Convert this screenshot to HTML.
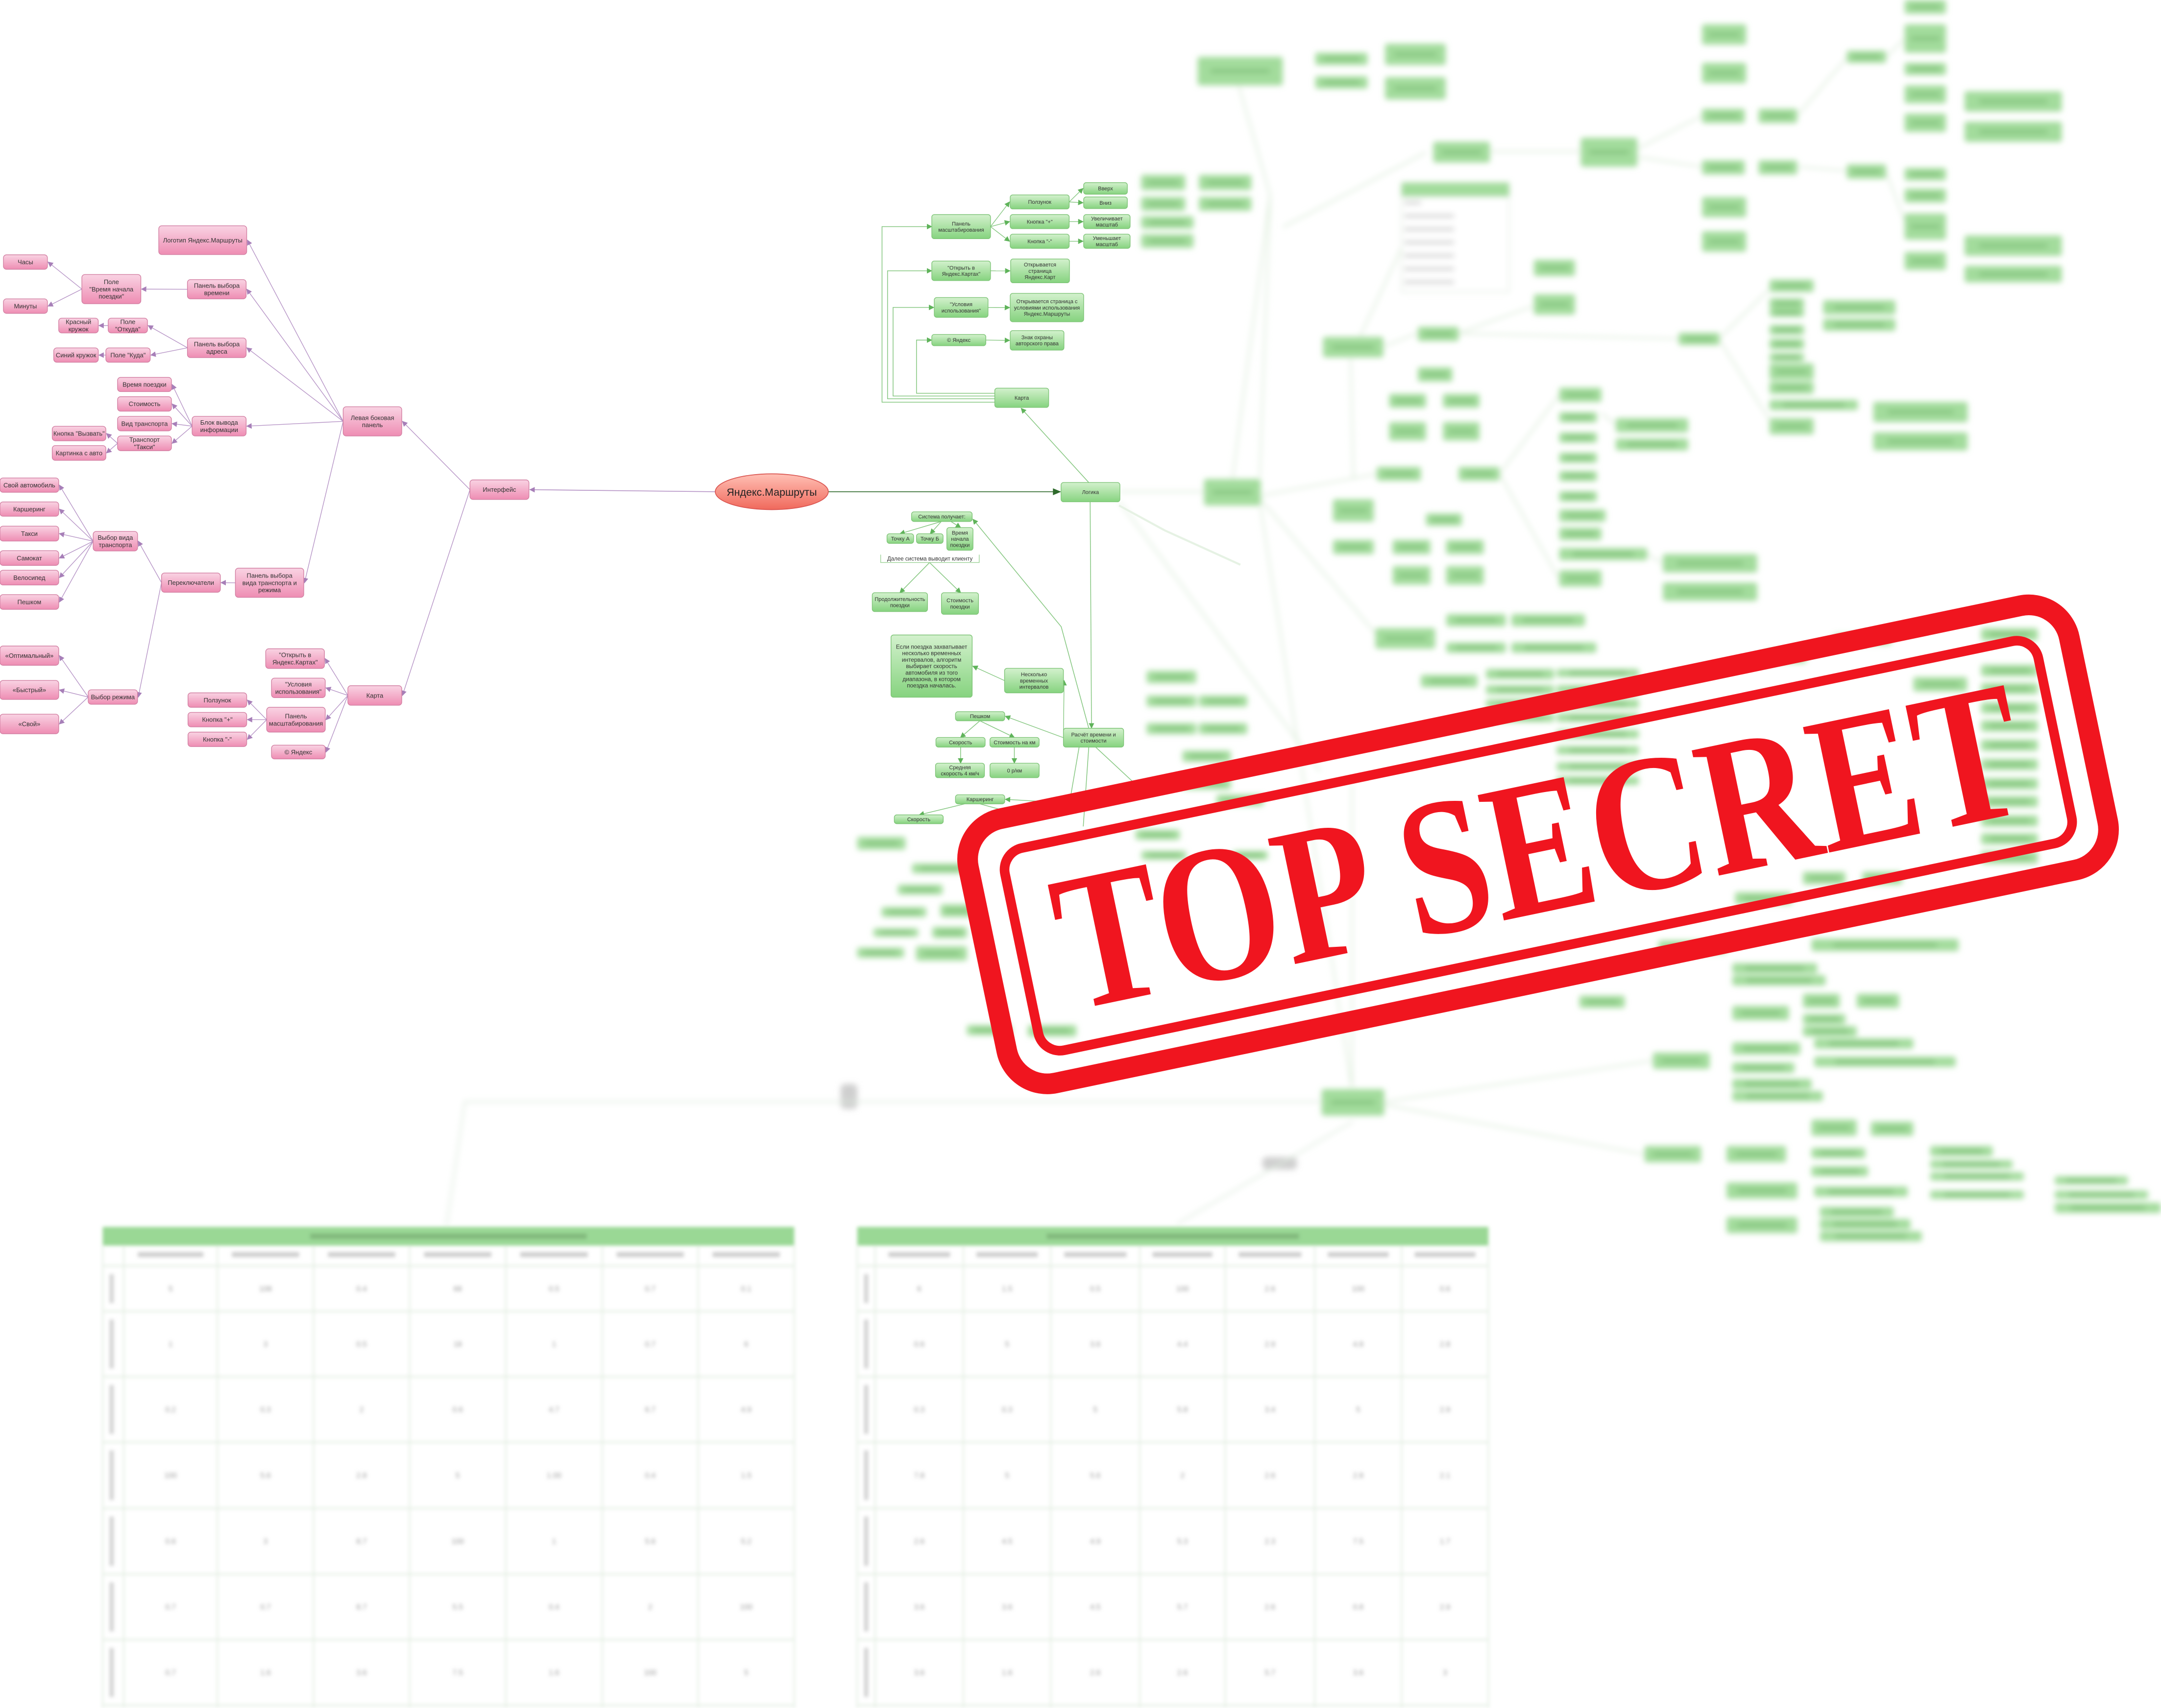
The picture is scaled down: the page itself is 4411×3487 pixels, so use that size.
<!DOCTYPE html>
<html><head><meta charset="utf-8"><style>
html,body{margin:0;padding:0;background:#fff;}
svg{display:block;}
</style></head><body>
<svg id="mm" xmlns="http://www.w3.org/2000/svg" width="4411" height="3487" viewBox="0 0 1568 1240" preserveAspectRatio="none">
<defs>
<linearGradient id="gp" x1="0" y1="0" x2="0" y2="1"><stop offset="0" stop-color="#f9d3e3"/><stop offset="1" stop-color="#ee8db3"/></linearGradient>
<linearGradient id="gg" x1="0" y1="0" x2="0" y2="1"><stop offset="0" stop-color="#d3f1cd"/><stop offset="1" stop-color="#86d37f"/></linearGradient>
<linearGradient id="gr" x1="0" y1="0" x2="0" y2="1"><stop offset="0" stop-color="#ffc0b5"/><stop offset="1" stop-color="#f0695c"/></linearGradient>
<marker id="ap" markerWidth="4" markerHeight="4" refX="3.5" refY="2" orient="auto" markerUnits="userSpaceOnUse"><path d="M0,0 L4,2 L0,4 z" fill="#a77fb8"/></marker>
<marker id="ag" markerWidth="4" markerHeight="4" refX="3.5" refY="2" orient="auto" markerUnits="userSpaceOnUse"><path d="M0,0 L4,2 L0,4 z" fill="#5fb35a"/></marker>
<marker id="ad" markerWidth="6" markerHeight="5" refX="5" refY="2.5" orient="auto" markerUnits="userSpaceOnUse"><path d="M0,0 L6,2.5 L0,5 z" fill="#2f6a2c"/></marker>
<filter id="bl" x="-10%" y="-10%" width="120%" height="120%"><feGaussianBlur stdDeviation="2.2"/></filter>
<filter id="bl2" x="-5%" y="-5%" width="110%" height="110%"><feGaussianBlur stdDeviation="1.3"/></filter>
</defs>
<g id="blurLayer" filter="url(#bl)"></g>
<g id="tables" filter="url(#bl2)"></g>
<g id="edges"></g>
<g id="nodes"></g>
<g id="stamp" transform="translate(1116,613) rotate(-11.8)">
  <rect x="-408" y="-98" width="816" height="196" rx="30" fill="none" stroke="#f0151f" stroke-width="15"/>
  <rect x="-383" y="-74" width="766" height="150" rx="16" fill="none" stroke="#f0151f" stroke-width="7"/>
  <text x="0" y="49" text-anchor="middle" font-family="Liberation Serif, serif" font-weight="bold" font-size="142" fill="#f0151f" textLength="712" lengthAdjust="spacingAndGlyphs">TOP SECRET</text>
</g>
</svg>
<script>
var NS='http://www.w3.org/2000/svg';
function mk(tag,attrs,parent){var e=document.createElementNS(NS,tag);for(var k in attrs)e.setAttribute(k,attrs[k]);parent.appendChild(e);return e;}
var G=document.getElementById('nodes'),E=document.getElementById('edges'),B=document.getElementById('blurLayer'),T=document.getElementById('tables');

var pinkNodes=[
['logo',115.2,163.9,179,184.8,'Логотип Яндекс.Маршруты'],
['chasy',2.5,185,34.4,195.5,'Часы'],
['pole_time',59.4,199.3,102.2,220.5,'Поле\n"Время начала\nпоездки"'],
['minuty',2.5,217,34.4,227.5,'Минуты'],
['pan_time',136,203,178.6,217,'Панель выбора\nвремени'],
['red',42.6,231,71.3,241.7,'Красный\nкружок'],
['otkuda',78.5,231,107,241.7,'Поле\n"Откуда"'],
['blue',39,252.6,71.3,263,'Синий кружок'],
['kuda',76.8,252.6,109,263,'Поле "Куда"'],
['pan_addr',136,245.4,178.6,259.6,'Панель выбора\nадреса'],
['vr_poezd',85.3,274,124.4,284.3,'Время поездки'],
['stoim',85.3,288,124.4,298.5,'Стоимость'],
['vid',85.3,302.3,124.4,312.8,'Вид транспорта'],
['taxi_t',85.3,316.5,124.4,327.2,'Транспорт\n"Такси"'],
['vyzv',37.9,309.5,76.8,320,'Кнопка "Вызвать"'],
['kart',37.9,323.5,76.8,334.2,'Картинка с авто'],
['blok',139.4,302.3,178.6,316.5,'Блок вывода\nинформации'],
['left',249,295.3,291.5,316.5,'Левая боковая\nпанель'],
['iface',341,348.4,383.8,362.6,'Интерфейс'],
['own',0,347,42.6,357.4,'Свой автомобиль'],
['carsh',0,364.4,42.6,374.8,'Каршеринг'],
['taxi',0,382,42.6,392.8,'Такси'],
['samo',0,399.8,42.6,410.5,'Самокат'],
['velo',0,414,42.6,424.7,'Велосипед'],
['walk',0,431.7,42.6,442.4,'Пешком'],
['vybor_vid',67.6,385.8,99.8,400,'Выбор вида\nтранспорта'],
['perekl',117.2,416,159.9,430,'Переключатели'],
['pan_vid',170.8,412.5,220.4,433.7,'Панель выбора\nвида транспорта и\nрежима'],
['opt',0,469,42.6,483,'«Оптимальный»'],
['fast',0,494,42.6,507.8,'«Быстрый»'],
['svoi',0,518.5,42.6,532.7,'«Свой»'],
['rezh',64,500.8,99.8,511.3,'Выбор режима'],
['p_open',192.8,471,235.4,485.3,'"Открыть в\nЯндекс.Картах"'],
['p_usl',197,492.3,236,506.5,'"Условия\nиспользования"'],
['p_karta',252.4,497.8,291.5,512,'Карта'],
['p_polz',136.4,503,179,513.5,'Ползунок'],
['p_plus',136.4,517.2,179,527.7,'Кнопка "+"'],
['p_minus',136.4,531.5,179,542,'Кнопка "-"'],
['p_masht',193.5,513.5,236,531.5,'Панель\nмасштабирования'],
['p_ya',197,541,236,551,'© Яндекс']
];
var pinkEdges=[['iface','left'],['iface','p_karta'],['left','logo'],['left','pan_time'],['left','pan_addr'],['left','blok'],['left','pan_vid'],
['pan_time','pole_time'],['pole_time','chasy'],['pole_time','minuty'],['pan_addr','otkuda'],['pan_addr','kuda'],['otkuda','red'],['kuda','blue'],
['blok','vr_poezd'],['blok','stoim'],['blok','vid'],['blok','taxi_t'],['taxi_t','vyzv'],['taxi_t','kart'],['pan_vid','perekl'],['perekl','vybor_vid'],['perekl','rezh'],
['vybor_vid','own'],['vybor_vid','carsh'],['vybor_vid','taxi'],['vybor_vid','samo'],['vybor_vid','velo'],['vybor_vid','walk'],
['rezh','opt'],['rezh','fast'],['rezh','svoi'],['p_karta','p_open'],['p_karta','p_usl'],['p_karta','p_masht'],['p_karta','p_ya'],
['p_masht','p_polz'],['p_masht','p_plus'],['p_masht','p_minus']];

var greenNodes=[
['g_masht',676.1,155.8,718.7,173.3,'Панель\nмасштабирования'],
['g_polz',733,141.5,775.8,151.7,'Ползунок'],
['g_plus',733,155.8,775.8,166,'Кнопка "+"'],
['g_minus',733,170,775.8,180.3,'Кнопка "-"'],
['g_up',786.3,132.6,818,141,'Вверх'],
['g_down',786.3,143,818,151.4,'Вниз'],
['g_inc',786.3,155.8,820,166,'Увеличивает\nмасштаб'],
['g_dec',786.3,170,820,180.3,'Уменьшает\nмасштаб'],
['g_open',676.1,189.5,718.7,203.7,'"Открыть в\nЯндекс.Картах"'],
['g_open2',733.3,188,776,205.3,'Открывается\nстраница\nЯндекс.Карт'],
['g_usl',677.9,216,716.9,230.4,'"Условия\nиспользования"'],
['g_usl2',733,213,786.3,233.6,'Открывается страница с\nусловиями использования\nЯндекс.Маршруты'],
['g_ya',676.1,242.8,715.3,251,'© Яндекс'],
['g_znak',733,240,772,254.2,'Знак охраны\nавторского права'],
['g_karta',721.8,281.8,760.9,295.8,'Карта'],
['g_log',769.9,350.3,812.6,364.3,'Логика'],
['g_sys',661.4,371.6,705.4,378.6,'Система получает:'],
['g_a',643.6,387.5,662.9,394.5,'Точку А'],
['g_b',665,387.5,684.3,394.5,'Точку Б'],
['g_tstart',687,383,706,399.5,'Время\nначала\nпоездки'],
['g_dur',632.9,430.3,673,444,'Продолжительность\nпоездки'],
['g_cost',683.1,430.3,710,446,'Стоимость\nпоездки'],
['g_if',646.5,461,705.4,506.2,'Если поездка захватывает\nнесколько временных\nинтервалов, алгоритм\nвыбирает скорость\nавтомобиля из того\nдиапазона, в котором\nпоездка началась.'],
['g_neskol',728.9,485.2,771.6,503,'Несколько\nвременных\nинтервалов'],
['g_walk',693.3,516.7,729,523.3,'Пешком'],
['g_speed',679.1,535.4,714.8,542.4,'Скорость'],
['g_perkm',718.3,535.4,754,542.4,'Стоимость на км'],
['g_avg',678.8,554.1,714.3,564.6,'Средняя\nскорость 4 км/ч'],
['g_zero',718.3,554.1,754,564.6,'0 р/км'],
['g_calc',771.6,528.7,815.3,542.4,'Расчёт времени и\nстоимости'],
['g_carsh',693.3,577,729,583.6,'Каршеринг'],
['g_speed2',648.9,591.6,684.4,598,'Скорость']
];
var greenEdges=[['g_masht','g_polz'],['g_masht','g_plus'],['g_masht','g_minus'],['g_polz','g_up'],['g_polz','g_down'],['g_plus','g_inc'],['g_minus','g_dec'],
['g_open','g_open2'],['g_usl','g_usl2'],['g_ya','g_znak'],['g_calc','g_neskol'],['g_calc','g_walk'],['g_neskol','g_if']];

var blurBoxes=[
[869,41.3,930.7,61.9],[954.4,38.3,992.3,47.2],[954.4,55.4,992.3,64.3],[1005,31.8,1049,47.2],[1005,56,1049,72.2],
[1040,103,1081,118],[1147,100,1188,121],[1235,17.7,1267,32.4],[1235,45.7,1267,60.4],[1235,79,1266,89.3],[1276,79,1304,89.3],
[1235,116.4,1266,126.7],[1276,116.4,1304,126.7],[1235,143,1267,157.7],[1235,168,1267,182.7],[1340,36.8,1368.5,45.7],[1340,119.4,1368.5,129.7],
[1382,0,1412,10],[1382,17.7,1412,38.3],[1382,45.7,1412,54.5],[1382,62,1412,75],[1382,82.5,1412,95.8],[1382,122,1412,131],[1382,137,1412,147],[1382,155,1412,174],[1382,183,1412,196],
[1425.5,66.3,1496,81],[1425.5,88.4,1496,103],[1425.5,171,1496,185.7],[1425.5,193,1496,205],
[1113,188.6,1142.8,200.4],[1113,213.7,1142.8,228.4],[960,244.6,1003.7,259.4],[1028.8,237.3,1058.4,247.6],[1028.8,266.7,1053.8,277],
[1008,286,1034.7,296],[1047,286,1073.5,296],[1008,306.5,1034.7,319.8],[1047,306.5,1073.5,319.8],[1218,241.7,1247.6,250.5],
[1284,203,1316,212],[1284,216.6,1309,224],[1284,224,1309,230],[1284,236,1309,243],[1284,246,1309,253.5],[1284,256.5,1309,262.3],[1284,263.8,1316,275.6],[1284,277,1316,286],[1284,290.3,1348,297.7],[1284,303.6,1316,315.4],
[1322.9,218,1375.3,228.4],[1322.9,231.4,1375.3,240.2],[1359.3,291.8,1427.7,306.5],[1359.3,313.9,1427.7,327],
[873.7,347.8,914.8,367],[999,339,1031,349],[1058.4,339,1088,349],[967.2,362.5,996.8,378.7],[967.2,392,996.8,402.3],[1034.7,372.8,1060.7,381.7],
[1010.5,392,1037.9,402.3],[1049.3,392,1076.6,402.3],[1010.5,411,1037.9,424.4],[1049.3,411,1076.6,424.4],
[1131.4,281.5,1162,291.8],[1131.4,299.3,1158.7,306.6],[1131.4,314,1158.7,321.4],[1131.4,328.7,1158.7,336],[1131.4,342,1158.7,349.3],[1131.4,356.7,1158.7,364.1],[1131.4,369.9,1165,378.7],[1131.4,383.1,1162,392],[1131.4,397.9,1195.2,406.7],[1131.4,414,1162,425.9],
[1172.4,303.6,1224.9,313.9],[1172.4,318.3,1224.9,327],[1206.6,402.3,1275,415.6],[1206.6,423,1275,436.2],
[998,456,1041.3,470.9],[1049.5,445.9,1092.6,454.7],[1096.7,445.9,1150,454.7],[1049.5,466.5,1092.6,473.9],[1096.7,466.5,1158.3,473.9],
[1031,490,1072,498.9],[1078.3,485.7,1127.6,493],[1129.6,485.7,1189.1,491.6],[1078.3,497.5,1127.6,504],[1129.6,497.5,1189.1,504],[1078.3,507.8,1127.6,514],[1129.6,507.8,1189.1,514],
[1078.3,518,1127.6,524],[1129.6,518,1189.1,524],[1129.6,530,1189.1,536],[1129.6,541.7,1189.1,547.7],[1129.6,553.5,1189.1,559.5],[1129.6,563.8,1189.1,569.8],
[1281.5,472.4,1310.3,481.2],[1330.8,460.6,1371.9,468],[1388.3,491.6,1427.3,501.9],[1437.5,456.2,1478.6,465],[1437.5,482.7,1478.6,491],[1437.5,496,1478.6,504],[1437.5,510,1478.6,518],
[1437.5,523,1478.6,531],[1437.5,537,1478.6,545],[1437.5,551,1478.6,559],[1437.5,565,1478.6,573],[1437.5,578,1478.6,586],[1437.5,592,1478.6,600],[1437.5,605,1478.6,613],[1437.5,618,1478.6,627],
[1259,647.8,1300,656.6],[1308.2,633,1339,642],[1351.3,633,1380,642],[1314.4,681.6,1421.1,690.5],[1257,699.3,1318.5,706.7],[1257,708,1324.6,715.5],[1203.5,683,1252.8,692],
[1146,722.9,1178.9,731.7],[1257,730.3,1298,740.6],[1308.2,721.5,1334.9,731.7],[1347.2,721.5,1378,731.7],[1308.2,736.2,1339,743.6],[1308.2,745,1347.2,752.4],
[1316.4,753.9,1388.3,761.3],[1316.4,767.1,1419,774.5],[1199.4,764.2,1240.5,776],[1257,756.8,1306.2,765.6],[1257,771.5,1302,778.9],[1257,783.3,1314.4,790.7],[1257,792.2,1322.6,799.5],
[959,790.7,1004.4,809.9],[1314.4,812.8,1347.2,824.6],[1357.5,814.3,1388.3,824.6],[1314.4,833.4,1353.4,840.8],[1314.4,846.7,1355.4,854],[1316.4,861.4,1384.2,868.8],
[1320.5,876.2,1374,883.5],[1320.5,885,1386.2,892.4],[1320.5,893.9,1394.4,901.2],[1400.6,832,1445.8,839.4],[1400.6,842.3,1460.2,848.2],[1400.6,851.1,1468.4,857],[1400.6,864.4,1468.4,870.3],
[1491,854,1544,860],[1491,864.4,1558.6,870.3],[1491,873.2,1568,880.6],[1193.3,832,1234.3,843.8],[1252.8,832,1295.9,843.8],[1252.8,858.5,1304.1,870.3],[1252.8,883.5,1304.1,895.3],
[828,127,860,138],[870,127,908,138],[828,143,860,153],[870,143,908,153],[828,157,866,166],[828,170,866,180],
[832,487,868,496],[832,505,868,513],[870,505,905,513],[832,525,868,533],[870,525,905,533],[858,545,893,553],[858,565,893,573],
[622,607.6,657,616.8],[661.8,627,701.6,634],[651.5,642.3,683.9,649.4],[639.7,658.6,672,665.7],[682.4,656.6,706,665.7],[633.8,674,666.2,680],[676.5,673,701.6,681],
[622,688,655.9,695.3],[664.7,687,701.6,697.4],[701.6,744.3,734,751.5],[745.8,744.3,781,752.5],[824,602.5,856,609.6],[828.3,617.8,860.7,624],[882.8,577,916.7,585],[894.6,617.8,919.7,624]
];
var blurLines=[[812,357,874,357],[898.8,62,921.6,141.5,894.2,347.8],[930.7,165,1035,110.5],[921.6,141.5,914,347],[1081,110,1147,110],[1188,108,1235,84],[1188,114,1235,121],
[1304,84,1340,42],[1304,121,1340,124],[1368,42,1382,28],[1368,124,1382,160],[1003,252,1028,242],[1058,242,1218,246],[1058,242,1113,222],[1247,246,1284,210],[1247,246,1284,305],
[980,259,982,347],[980,259,1017,180],[914,360,999,344],[1088,344,1131,287],[1088,344,1131,420],[914,362,1000,462],[914,364,981,790],[812,364,958,560],[981,569,981,790],
[1004,800,1200,770],[1004,802,1193,838],[1162,300,1172,308],[1195,402,1206,409]];
var greyBlobs=[[610,787,622,805],[916,840,941,849]];

var tableRows=[919,952,999.5,1047,1095,1142.8,1190.4,1238];
var tableLeftCols=[74.5,89.8,157.8,227.5,297.2,367,437,506.6,576.3];
var tableRightCols=[622,635,699,762.5,827,889,954,1017,1080];
var tableLeftVals=[['5','108','0.4','68','0.5','0.7','0.1'],['1','3','0.5','18','1','0.7','6'],['0.2','0.3','2','0.6','4.7','6.7','4.9'],['100','5.6','2.8','5','1.00','0.4','1.5'],['0.6','3','8.7','100','1','5.6','5.2'],['0.7','0.7','8.7','5.5','0.4','2','100'],['0.7','1.6','3.6','7.5','1.6','100','5']];
var tableRightVals=[['6','1.5','0.5','100','2.6','100','0.6'],['0.6','5','3.6','4.4','2.9','4.8','2.8'],['0.3','0.3','5','5.8','3.4','5','2.9'],['7.8','5','5.6','2','2.6','2.8','2.1'],['2.6','4.5','4.9','5.3','2.3','7.5','1.7'],['3.6','3.6','4.5','5.7','2.6','0.8','2.9'],['3.6','1.6','2.6','2.6','5.7','3.6','3']];

function drawNode(n,kind){
  var g=mk('g',{},G);
  
  
  mk('rect',{x:n[1],y:n[2],width:n[3]-n[1],height:n[4]-n[2],rx:kind==='p'?2.2:1.8,fill:kind==='p'?'url(#gp)':'url(#gg)',stroke:kind==='p'?'#d27fa2':'#7ec477','stroke-width':0.5},g);
  var lines=n[5].split('\n'),fs=kind==='p'?4.6:3.9,lh=fs*1.15;
  if(n[0]==='g_if'){fs=4.2;lh=4.7;}
  var cx=(n[1]+n[3])/2,cy=(n[2]+n[4])/2,y0=cy-(lines.length-1)*lh/2+fs*0.35;
  var t=mk('text',{x:cx,y:y0,'text-anchor':'middle','font-family':'Liberation Sans, DejaVu Sans, sans-serif','font-size':fs,fill:'#333'},g);
  lines.forEach(function(l,i){var s=mk('tspan',{x:cx,y:y0+i*lh},t);s.textContent=l;});
}
var idx={};
pinkNodes.forEach(function(n){idx[n[0]]=n;});
greenNodes.forEach(function(n){idx[n[0]]=n;});

function line(pts,color,marker,w,parent,name){
  var p=mk('polyline',{points:pts.join(' '),fill:'none',stroke:color,'stroke-width':w||0.55},parent||E);
  if(marker)p.setAttribute('marker-end','url(#'+marker+')');
  
  
  return p;
}
pinkEdges.forEach(function(e){var a=idx[e[0]],b=idx[e[1]];
  line([a[1],(a[2]+a[4])/2,b[3]+0.5,(b[2]+b[4])/2],'#b694c6','ap',0.5,E,'edge-'+e[0]+'-'+e[1]);});
greenEdges.forEach(function(e){var a=idx[e[0]],b=idx[e[1]];var lr=a[1]<b[1];
  line(lr?[a[3],(a[2]+a[4])/2,b[1]-0.5,(b[2]+b[4])/2]:[a[1],(a[2]+a[4])/2,b[3]+0.5,(b[2]+b[4])/2],'#86c781','ag',0.5,E,'edge-'+e[0]+'-'+e[1]);});
var gc='#86c781';
line([721.8,292,640,292,640,164.5,676,164.5],gc,'ag');
line([721.8,289.5,644,289.5,644,196.6,676,196.6],gc,'ag');
line([721.8,287.5,648,287.5,648,223.2,677.5,223.2],gc,'ag');
line([721.8,285.5,665,285.5,665,246.9,676,246.9],gc,'ag');
line([790,350.3,741,296.5],gc,'ag');
line([791,364.3,792,528.5],gc,'ag');
line([790,528.7,770,455,706,377],gc,'ag');
line([783,542.4,776,583,729.5,580.3],gc,'ag');
line([683,378.6,653,387.5],gc,'ag');line([683,378.6,675,387.5],gc,'ag');line([690,378.6,697,383],gc,'ag');
line([674.5,408.4,653,430.3],gc,'ag');line([674.5,408.4,697,430.3],gc,'ag');
line([711,523.3,697,535.4],gc,'ag');line([711,523.3,736,535.4],gc,'ag');
line([697,542.4,697,554],gc,'ag');line([736,542.4,736,554],gc,'ag');
line([700,583.6,667,591.6],gc,'ag');line([711,583.6,740,591.6],gc,'ag');
line([790,542.4,786,600],gc,null);line([795,542.4,830,575],gc,null);
line([812,367,845,385,900,410],'#e6f2e4',null,1.5);
var root=mk('g',{},G);


line([520,357,384.5,355.5],'#b694c6','ap',0.6,E,'edge-root-interface');
line([600,357,769,357],'#2f6a2c','ad',0.6,E,'edge-root-logic');
mk('ellipse',{cx:560,cy:357,rx:41,ry:13,fill:'url(#gr)',stroke:'#d9534f','stroke-width':0.6},root);
var rt=mk('text',{x:560,y:359.8,'text-anchor':'middle','font-family':'Liberation Sans, DejaVu Sans, sans-serif','font-size':7.6,fill:'#222'},root);
rt.textContent='Яндекс.Маршруты';
pinkNodes.forEach(function(n){drawNode(n,'p');});
greenNodes.forEach(function(n){drawNode(n,'g');});
var br=mk('g',{},G);


mk('path',{d:'M639,402.7 L639,408.4 L710.5,408.4 L710.5,402.7',fill:'#fff',stroke:'#9bd196','stroke-width':0.5},br);
var bt=mk('text',{x:674.7,y:407,'text-anchor':'middle','font-family':'Liberation Sans, sans-serif','font-size':4.1,fill:'#333'},br);
bt.textContent='Далее система выводит клиенту';

blurLines.forEach(function(l){line(l,'#dcecd9',null,1.2,B,'blurred-connector');});
blurBoxes.forEach(function(b){
  var r=mk('rect',{x:b[0],y:b[1],width:b[2]-b[0],height:b[3]-b[1],rx:1.5,fill:'#a3dc9c'},B);
  
  
  mk('rect',{x:b[0]+(b[2]-b[0])*0.15,y:(b[1]+b[3])/2-1.2,width:(b[2]-b[0])*0.7,height:2.4,fill:'#7fbf78'},B);
});
var lb=mk('g',{},B);


mk('rect',{x:1017,y:132.6,width:78,height:79.4,fill:'#fff',stroke:'#dde9db','stroke-width':0.8},lb);
mk('rect',{x:1017,y:132.6,width:78,height:10.4,fill:'#a3dc9c'},lb);
for(var i=0;i<7;i++)mk('rect',{x:1019,y:146+i*9.6,width:(i===0?12:36),height:2.4,fill:'#cfcfcf'},lb);
greyBlobs.forEach(function(b){var r=mk('rect',{x:b[0],y:b[1],width:b[2]-b[0],height:b[3]-b[1],rx:3,fill:'#cfcfcf'},B);
  });
line([958,799.8,337.2,799.8,324,890],'#e0ece0',null,1.2,B,'blurred-connector');
line([982,814,854,888.6],'#e0ece0',null,1.2,B,'blurred-connector');

function drawTable(cols,vals,name){
  var g=mk('g',{},T);
  
  
  var x0=cols[0],x1=cols[cols.length-1];
  mk('rect',{x:x0,y:890.7,width:x1-x0,height:13.6,fill:'#9ad895'},g);
  mk('rect',{x:x0+(x1-x0)*0.3,y:895.5,width:(x1-x0)*0.4,height:4,fill:'#82b97d'},g);
  cols.forEach(function(c){mk('line',{x1:c,y1:904.3,x2:c,y2:1240,stroke:'#e3eee2','stroke-width':1},g);});
  tableRows.forEach(function(r){mk('line',{x1:x0,y1:r,x2:x1,y2:r,stroke:'#e3eee2','stroke-width':1.2},g);});
  for(var c=1;c<cols.length-1;c++){
    mk('rect',{x:cols[c+1]-(cols[c+1]-cols[c])*0.85,y:909,width:(cols[c+1]-cols[c])*0.7,height:3.6,fill:'#cfcfcf'},g);
  }
  for(var r=0;r<tableRows.length-1;r++){
    var ry=(tableRows[r]+tableRows[r+1])/2;
    mk('rect',{x:x0+5,y:tableRows[r]+6,width:3,height:tableRows[r+1]-tableRows[r]-12,fill:'#d2d2d2'},g);
    for(var c2=1;c2<cols.length-1;c2++){
      var t=mk('text',{x:(cols[c2]+cols[c2+1])/2,y:ry+2,'text-anchor':'middle','font-family':'Liberation Sans, sans-serif','font-size':5.5,fill:'#999'},g);
      t.textContent=vals[r][c2-1];
    }
  }
}
drawTable(tableLeftCols,tableLeftVals,'table-left');
drawTable(tableRightCols,tableRightVals,'table-right');
</script>
</body></html>
